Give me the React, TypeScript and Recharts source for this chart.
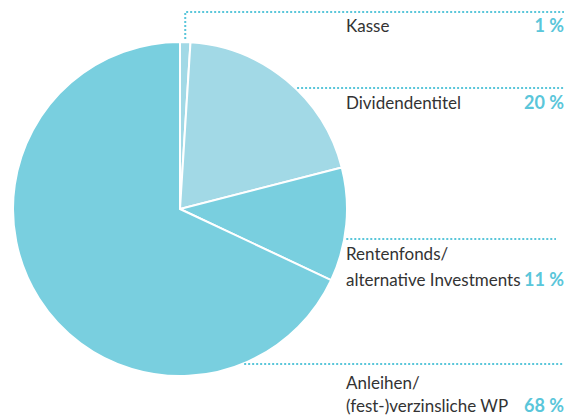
import { PieChart, Pie, Cell } from "recharts";

const categories = ["Kasse", "Dividendentitel", "Rentenfonds/alternative Investments", "Anleihen/(fest-)verzinsliche WP"];
const labelLines = [["Kasse"], ["Dividendentitel"], ["Rentenfonds/", "alternative Investments"], ["Anleihen/", "(fest-)verzinsliche WP"]];
const shares = [1, 20, 11, 68];
const colors = ["#a2d9e6", "#a2d9e6", "#79cfdf", "#79cfdf"];

// layout of the annotation column
const lineY = [12, 88, 239, 364];
const textBase = [[32], [109], [260, 286], [389, 412]];
const textX = 346;
const rightX = 564;
const teal = "#5ac6da";

const data = categories.map((name, i) => ({ name, value: shares[i] }));

const FONT = "Lato, 'Open Sans', sans-serif";

function renderLabel(props: any) {
  const { cx, cy, outerRadius, midAngle, index } = props;
  const y = lineY[index];
  const lines = labelLines[index];
  const bases = textBase[index];
  let leader;
  if (index === 0) {
    const RAD = Math.PI / 180;
    const sx = cx + outerRadius * Math.cos(midAngle * RAD);
    const sy = cy - outerRadius * Math.sin(midAngle * RAD);
    leader = (
      <path
        d={`M${sx},${sy - 3}L${sx},${y}L${rightX},${y}`}
        fill="none"
        stroke={teal}
        strokeWidth={2}
        strokeDasharray="2 2"
      />
    );
  } else {
    const dy = y - cy;
    const sx = cx + Math.sqrt(Math.max(outerRadius * outerRadius - dy * dy, 0)) + 2;
    leader = (
      <line x1={sx} y1={y} x2={index === 2 ? rightX - 8 : rightX} y2={y} stroke={teal} strokeWidth={2} strokeDasharray="2 2" />
    );
  }
  return (
    <g key={`lbl-${index}`}>
      {leader}
      {lines.map((t, j) => (
        <text key={j} x={textX} y={bases[j]} fill="#333333" fontSize={17} fontFamily={FONT}>
          {t}
        </text>
      ))}
      <text
        x={rightX}
        y={bases[bases.length - 1]}
        textAnchor="end"
        fill={teal}
        fontSize={18}
        fontWeight="bold"
        fontFamily={FONT}
      >
        {`${shares[index]} %`}
      </text>
    </g>
  );
}

export default function App() {
  return (
    <div style={{ position: "absolute", left: 0, top: 0, width: 570, height: 415, background: "#fff" }}>
      <PieChart width={570} height={415} margin={{ top: 0, right: 0, bottom: 0, left: 0 }}>
        <Pie
          data={data}
          dataKey="value"
          cx={180}
          cy={209}
          outerRadius={167}
          startAngle={90}
          endAngle={-270}
          stroke="#ffffff"
          strokeWidth={2}
          label={renderLabel}
          labelLine={false}
          isAnimationActive={false}
        >
          {data.map((d, i) => (
            <Cell key={d.name} fill={colors[i]} />
          ))}
        </Pie>
      </PieChart>
    </div>
  );
}
